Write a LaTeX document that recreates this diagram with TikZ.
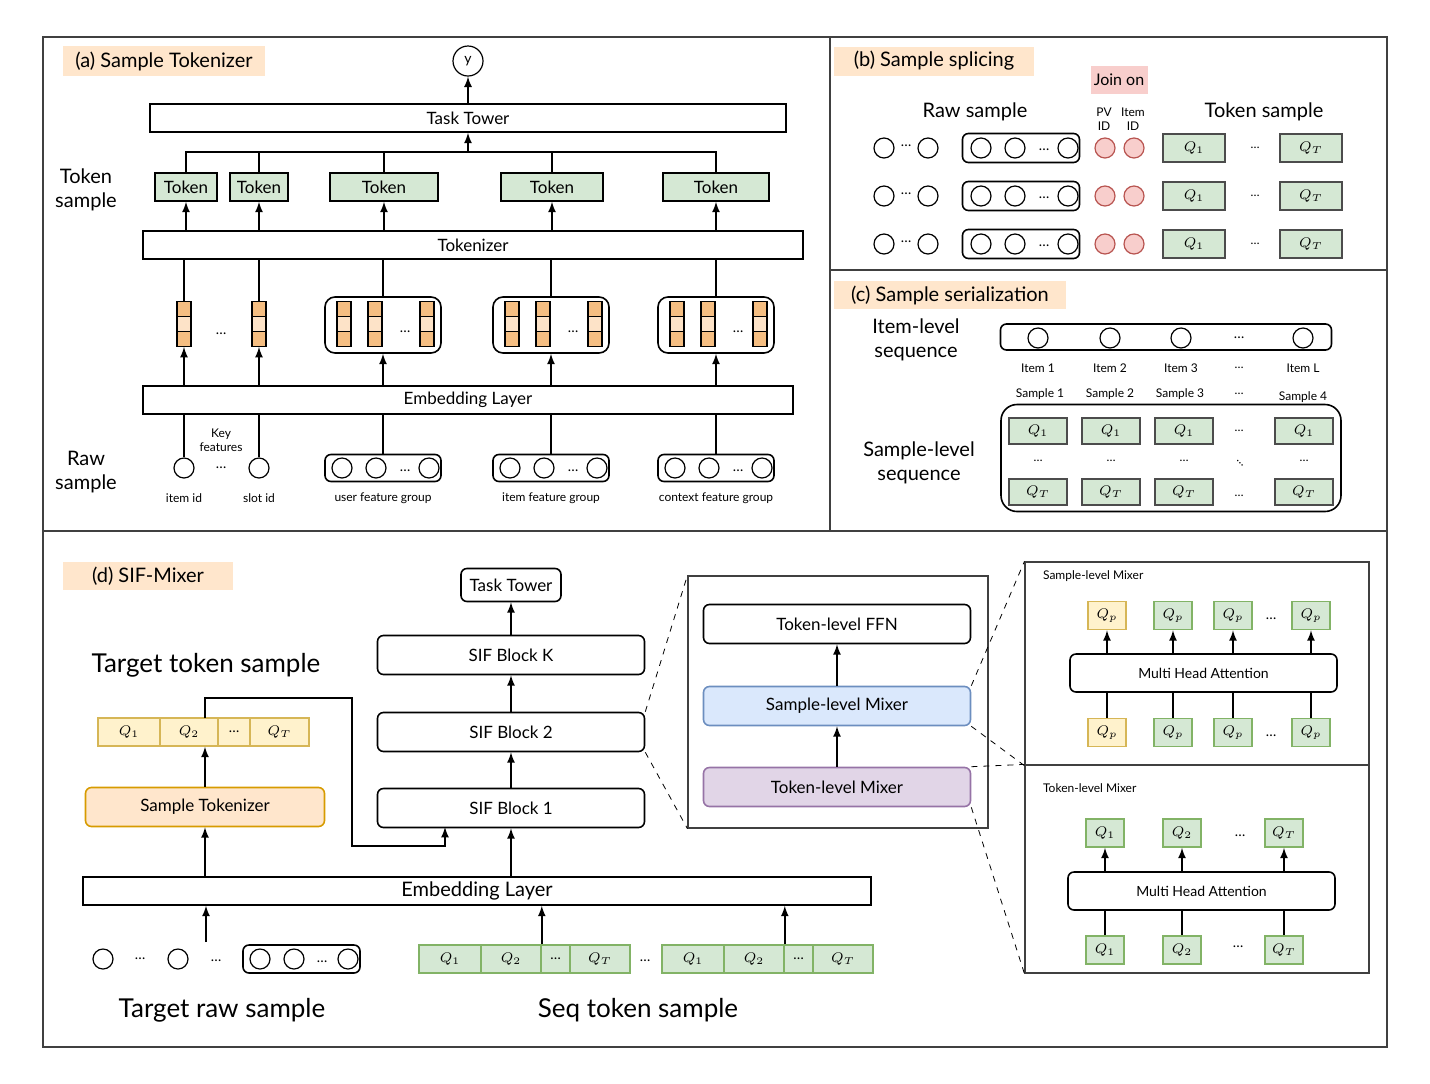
\documentclass[tikz,border=0pt]{standalone}
\usepackage{fontspec}
\setmainfont{Lato}
\usetikzlibrary{calc}

\definecolor{ttlbg}{HTML}{FFE6CC}
\definecolor{joinbg}{HTML}{F8CECC}
\definecolor{gfill}{HTML}{D5E8D4}
\definecolor{gdraw}{HTML}{82B366}
\definecolor{yfill}{HTML}{FFF2CC}
\definecolor{ydraw}{HTML}{D6B656}
\definecolor{stdraw}{HTML}{D79B00}
\definecolor{bfill}{HTML}{DAE8FC}
\definecolor{bdraw}{HTML}{6C8EBF}
\definecolor{pfill}{HTML}{E1D5E7}
\definecolor{pdraw}{HTML}{9673A6}
\definecolor{vecO}{HTML}{F5BE82}
\definecolor{vecL}{HTML}{FDE3C8}
\definecolor{rdraw}{HTML}{B85450}

\tikzset{
  box/.style={draw, line width=0.8pt, inner sep=0pt, font=\fontsize{8.5}{10}\selectfont},
  rbox/.style={box, rounded corners=3pt},
  circ/.style={circle, draw, line width=0.6pt, minimum size=10pt, inner sep=0pt},
  vcell/.style={draw, line width=0.6pt, minimum width=7pt, minimum height=7.5pt, inner sep=0pt},
  qb/.style={draw=black!70, fill=gfill, line width=0.7pt, minimum width=31pt, minimum height=14pt, inner sep=0pt, font=\fontsize{7}{8}\selectfont},
  gq/.style={draw=gdraw, fill=gfill, line width=0.8pt, minimum width=19pt, minimum height=14pt, inner sep=0pt, font=\fontsize{7}{8}\selectfont},
  yq/.style={gq, draw=ydraw, fill=yfill},
  ttl/.style={fill=ttlbg, inner sep=0pt, font=\fontsize{10}{12}\selectfont},
  lbl/.style={font=\fontsize{10}{12}\selectfont, align=center},
  big/.style={font=\fontsize{13}{15}\selectfont},
  sml/.style={font=\fontsize{6}{7}\selectfont, align=center},
  dts/.style={font=\fontsize{7}{8}\selectfont},
  zoomline/.style={dashed, line width=0.4pt}
}

% one embedding vector: name, x, y
\newcommand{\vcol}[3]{%
  \node[inner sep=0pt, minimum width=7pt, minimum height=22.5pt] (#1) at (#2,#3) {};
  \foreach \k/\dy/\c in {a/-15/vecO,b/0/vecL,c/15/vecO}
    \node[vcell, fill=\c] (#1\k) at (#2,#3+\dy) {};}

\begin{document}
\begin{tikzpicture}[x=0.5pt, y=-0.5pt, >=latex]
\useasboundingbox (0,0) rectangle (1430,1083);

% frames
\draw[line width=0.6pt, black!75] (43,37) rectangle (1387,1047);
\draw[line width=0.6pt, black!75] (830,37) -- (830,531);
\draw[line width=0.6pt, black!75] (830,270) -- (1387,270);
\draw[line width=0.6pt, black!75] (43,531) -- (1387,531);

% (a) sample tokenizer
\node[ttl, minimum width=101pt, minimum height=15pt] (ta) at (164,61) {(a) Sample Tokenizer};
\node[circ, minimum size=15pt] (y) at (468,61) {\fontsize{7}{8}\selectfont y};
\node[box, minimum width=318pt, minimum height=14pt] (tower) at (468,118) {Task Tower};
\foreach \n/\x/\w in {1/186/31,2/259/29,3/384/54,4/552/51,5/716/53}
  \node[box, fill=gfill, minimum width=\w pt, minimum height=14pt] (tok\n) at (\x,187) {Token};
\node[box, minimum width=330pt, minimum height=14pt] (tkz) at (473,245) {Tokenizer};
\node[box, minimum width=325pt, minimum height=14pt] (emb) at (468,400) {Embedding Layer};
\node[lbl] (lts) at (86,190) {Token\\sample};
\node[lbl] (lrs) at (86,472) {Raw\\sample};

\coordinate (bus) at (468,152);
\draw[-latex, thick] (tower.north) -- (y.south);
\draw[thick] (tok1.north) |- (bus) -| (tok5.north);
\foreach \i in {2,3,4} \draw[thick] (tok\i.north) -- (tok\i.north |- bus);
\draw[-latex, thick] (bus) -- (tower.south);
\foreach \i in {1,...,5} \draw[-latex, thick] (tkz.north -| tok\i) -- (tok\i.south);

% embeddings
\vcol{vs1}{184}{324}
\vcol{vs2}{259}{324}
\node[dts] (vd) at (221,334) {\ldots};
\foreach \g/\x in {1/383,2/551,3/716} {
  \node[rbox, minimum width=58pt, minimum height=28pt, rounded corners=5pt] (g\g) at (\x,325) {};
  \vcol{g\g a}{\x-39}{324}
  \vcol{g\g b}{\x-8}{324}
  \vcol{g\g c}{\x+44}{324}
  \node[dts] (g\g d) at (\x+22,332) {\ldots};
}
\foreach \v in {vs1,vs2} {
  \draw[thick] (\v.north) -- (tkz.south -| \v);
  \draw[-latex, thick] (emb.north -| \v) -- (\v.south);
}
\foreach \g in {1,2,3} {
  \draw[thick] (g\g.north) -- (tkz.south -| g\g);
  \draw[-latex, thick] (emb.north -| g\g) -- (g\g.south);
}

% raw features
\node[circ] (r1) at (184,468) {};
\node[circ] (r2) at (259,468) {};
\node[dts] (rd) at (221,468) {\ldots};
\node[sml] (kf) at (221,440) {Key\\features};
\draw[thick] (r1.north) -- (emb.south -| r1);
\draw[thick] (r2.north) -- (emb.south -| r2);
\foreach \g/\x/\t in {1/383/user feature group,2/551/item feature group,3/716/context feature group} {
  \node[rbox, minimum width=58pt, minimum height=13.5pt] (rg\g) at (\x,468) {};
  \foreach \k/\dx in {a/-41,b/-7,c/46} \node[circ] (rg\g\k) at (\x+\dx,468) {};
  \node[dts] (rg\g d) at (\x+22,471) {\ldots};
  \node[sml] (rl\g) at (\x,498) {\t};
  \draw[thick] (rg\g.north) -- (emb.south -| rg\g);
}
\node[sml] (rl4) at (184,498) {item id};
\node[sml] (rl5) at (259,498) {slot id};

% (b) sample splicing
\node[ttl, minimum width=100pt, minimum height=14.5pt] (tb) at (934,61) {(b) Sample splicing};
\node[fill=joinbg, minimum width=28.5pt, minimum height=14pt, inner sep=0pt, font=\fontsize{8}{9}\selectfont] (join) at (1119,80) {Join on};
\node[lbl] (lraw) at (975,112) {Raw sample};
\node[lbl] (ltok) at (1264,112) {Token sample};
\node[sml] (lpv) at (1104,119) {PV\\ID};
\node[sml] (lit) at (1133,119) {Item\\ID};
\foreach \r/\yy in {1/148,2/196,3/244} {
  \node[circ] (b\r a) at (884,\yy) {};
  \node[circ] (b\r b) at (928,\yy) {};
  \node[dts] (b\r d) at (906,\yy-2) {\ldots};
  \node[rbox, minimum width=58.5pt, minimum height=14.5pt] (b\r g) at (1021,\yy) {};
  \foreach \k/\x in {1/981,2/1015,3/1068} \node[circ] (b\r c\k) at (\x,\yy) {};
  \node[dts] (b\r e) at (1044,\yy+2) {\ldots};
  \node[circ, draw=rdraw, fill=joinbg] (b\r p) at (1105,\yy) {};
  \node[circ, draw=rdraw, fill=joinbg] (b\r i) at (1134,\yy) {};
  \node[qb] (b\r q) at (1194,\yy) {$Q_1$};
  \node[sml] (b\r f) at (1255,\yy) {\ldots};
  \node[qb] (b\r t) at (1311,\yy) {$Q_T$};
}

% (c) sample serialization
\node[ttl, minimum width=116pt, minimum height=14pt] (tc) at (950,295) {(c) Sample serialization};
\node[lbl] (lil) at (916,340) {Item-level\\sequence};
\node[lbl] (lsl) at (919,463) {Sample-level\\sequence};
\node[rbox, minimum width=165.5pt, minimum height=13pt] (iseq) at (1166,337) {};
\foreach \k/\x/\t in {1/1038/Item 1,2/1110/Item 2,3/1181/Item 3,4/1303/Item L} {
  \node[circ] (ic\k) at (\x,338) {};
  \node[sml] (il\k) at (\x,368) {\t};
}
\node[dts] (icd) at (1239,338) {\ldots};
\node[sml] (ild) at (1239,368) {\ldots};
\foreach \k/\x/\yy/\t in {1/1040/394/Sample 1,2/1110/394/Sample 2,3/1180/394/Sample 3,4/1303/397/Sample 4}
  \node[sml] (sl\k) at (\x,\yy) {\t};
\node[sml] (sld) at (1239,394) {\ldots};
\node[rbox, minimum width=170pt, minimum height=53.5pt, rounded corners=8pt] (sseq) at (1171,458) {};
\foreach \k/\x in {1/1038,2/1111,3/1184,4/1304} {
  \node[qb, minimum width=29pt, minimum height=13pt] (sq\k) at (\x,431) {$Q_1$};
  \node[qb, minimum width=29pt, minimum height=13pt] (st\k) at (\x,492) {$Q_T$};
  \node[sml] (sm\k) at (\x,461) {\ldots};
}
\node[sml] (sqd) at (1239,431) {\ldots};
\node[sml] (std) at (1239,496) {\ldots};
\node[sml, rotate=-45] (smd) at (1240,463) {\ldots};

% (d) SIF-Mixer
\node[ttl, minimum width=85pt, minimum height=14pt] (td) at (148,576) {(d) SIF-Mixer};
\node[rbox, minimum width=50pt, minimum height=16.5pt] (dtower) at (511,585) {Task Tower};
\node[rbox, minimum width=133.5pt, minimum height=19.5pt] (sifk) at (511,655) {SIF Block K};
\node[rbox, minimum width=133.5pt, minimum height=19.5pt] (sif2) at (511,732) {SIF Block 2};
\node[rbox, minimum width=133.5pt, minimum height=19.5pt] (sif1) at (511,808) {SIF Block 1};
\draw[-latex, thick] (sif1.north) -- (sif2.south);
\draw[-latex, thick] (sif2.north) -- (sifk.south);
\draw[-latex, thick] (sifk.north) -- (dtower.south);

\node[big] (ltt) at (206,665) {Target token sample};
\foreach \k/\x/\w/\t in {1/129/31/$Q_1$,2/189/29/$Q_2$,3/234/16/\ldots,4/279.5/29.5/$Q_T$}
  \node[yq, minimum width=\w pt] (yq\k) at (\x,732) {\t};
\node[rbox, fill=ttlbg, draw=stdraw, minimum width=119.5pt, minimum height=19.5pt] (stok) at (205,807) {Sample Tokenizer};
\node[box, minimum width=394pt, minimum height=14pt, font=\fontsize{10}{12}\selectfont] (demb) at (477,891) {Embedding Layer};
\coordinate (yq2top) at (205,718);
\coordinate (sifin) at (445,827);
\draw[-latex, thick] (demb.north -| stok) -- (stok.south);
\draw[-latex, thick] (stok.north) -- (yq2top |- yq2.south);
\draw[-latex, thick] (yq2top) |- (352,698) |- (445,846) -- (sifin);
\draw[-latex, thick] (demb.north -| sif1) -- (sif1.south);

% target raw sample
\node[circ] (tr1) at (103,959) {};
\node[circ] (tr2) at (178,959) {};
\node[dts] (trd1) at (140,959) {\ldots};
\node[dts] (trd2) at (216,961) {\ldots};
\node[rbox, minimum width=58.5pt, minimum height=14pt] (trg) at (301.5,959) {};
\foreach \k/\x in {1/260,2/294,3/348} \node[circ] (trc\k) at (\x,959) {};
\node[dts] (trd3) at (322,962) {\ldots};
\coordinate (trin) at (206,942);
\draw[-latex, thick] (trin) -- (demb.south -| trin);
\node[big] (ltr) at (222,1010) {Target raw sample};

% seq token sample
\foreach \s/\x in {a/419,b/662} {
  \node[gq, minimum width=31pt] (s\s1) at (\x+31,959) {$Q_1$};
  \node[gq, minimum width=30pt] (s\s2) at (\x+92,959) {$Q_2$};
  \node[gq, minimum width=14.5pt] (s\s3) at (\x+136.5,959) {\ldots};
  \node[gq, minimum width=30pt] (s\s4) at (\x+181,959) {$Q_T$};
  \draw[-latex, thick] (s\s2.north east) -- (demb.south -| s\s2.north east);
}
\node[dts] (sd) at (645,961) {\ldots};
\node[big] (lst) at (638,1010) {Seq token sample};

% zoomed SIF block
\node[draw, line width=0.6pt, black!75, minimum width=150pt, minimum height=126pt, inner sep=0pt] (zoom) at (838,702) {};
\node[rbox, minimum width=133.5pt, minimum height=19.5pt] (ffn) at (837,624) {Token-level FFN};
\node[rbox, fill=bfill, draw=bdraw, minimum width=133.5pt, minimum height=19.5pt] (smx) at (837,706) {Sample-level Mixer};
\node[rbox, fill=pfill, draw=pdraw, minimum width=133.5pt, minimum height=19.5pt] (tmx) at (837,787) {Token-level Mixer};
\draw[-latex, thick] (tmx.north) -- (smx.south);
\draw[-latex, thick] (smx.north) -- (ffn.south);
\draw[zoomline] (sif2.north east) -- (zoom.north west);
\draw[zoomline] (sif2.south east) -- (zoom.south west);

% mixer details
\node[draw, line width=0.6pt, black!75, minimum width=172pt, minimum height=101.5pt, inner sep=0pt] (smp) at (1197,663.5) {};
\node[draw, line width=0.6pt, black!75, minimum width=172pt, minimum height=104pt, inner sep=0pt] (tmp) at (1197,869) {};
\node[sml, anchor=west] (lsm) at (1036,576) {Sample-level Mixer};
\node[sml, anchor=west] (ltm) at (1036,788) {Token-level Mixer};
\draw[zoomline] (smx.north east) -- (smp.north west);
\draw[zoomline] (smx.south east) -- (smp.south west);
\draw[zoomline] (tmx.north east) -- (tmp.north west);
\draw[zoomline] (tmx.south east) -- (tmp.south west);

\node[rbox, minimum width=133.5pt, minimum height=19pt, font=\fontsize{7}{8}\selectfont] (mha1) at (1203.5,673) {Multi Head Attention};
\foreach \k/\x in {1/1107,2/1173,3/1233,4/1311} {
  \ifnum\k=1
    \node[yq] (po\k) at (\x,615.5) {$Q_p$};
    \node[yq] (pi\k) at (\x,732.5) {$Q_p$};
  \else
    \node[gq] (po\k) at (\x,615.5) {$Q_p$};
    \node[gq] (pi\k) at (\x,732.5) {$Q_p$};
  \fi
  \draw[-latex, thick] (mha1.north -| po\k) -- (po\k.south);
  \draw[thick] (pi\k.north) -- (mha1.south -| pi\k);
}
\node[dts] (pod) at (1271,619) {\ldots};
\node[dts] (pid) at (1271,736) {\ldots};

\node[rbox, minimum width=133.5pt, minimum height=19pt, font=\fontsize{7}{8}\selectfont] (mha2) at (1201.5,891) {Multi Head Attention};
\foreach \k/\x/\t in {1/1105/$Q_1$,2/1182/$Q_2$,3/1284/$Q_T$} {
  \node[gq] (to\k) at (\x,833) {\t};
  \node[gq] (ti\k) at (\x,950) {\t};
  \draw[-latex, thick] (mha2.north -| to\k) -- (to\k.south);
  \draw[thick] (ti\k.north) -- (mha2.south -| ti\k);
}
\node[dts] (tod) at (1240,836) {\ldots};
\node[dts] (tid) at (1238,947) {\ldots};
\end{tikzpicture}
\end{document}
